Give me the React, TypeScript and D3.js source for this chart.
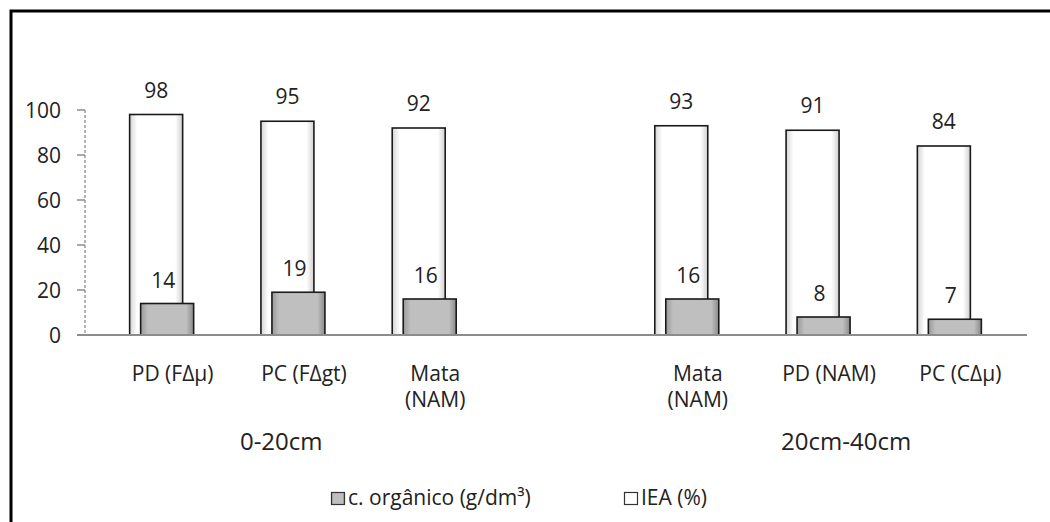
import React from "react";
import * as d3 from "d3";

const categories = ["PD (FΔμ)", "PC (FΔgt)", "Mata\n(NAM)", "", "Mata\n(NAM)", "PD (NAM)", "PC (CΔμ)"];
const carbonoOrganico: (number | null)[] = [14, 19, 16, null, 16, 8, 7];
const iea: (number | null)[] = [98, 95, 92, null, 93, 91, 84];
const yTicks = [0, 20, 40, 60, 80, 100];
const groupLabels = ["0-20cm", "20cm-40cm"];
const legendLabels = ["c. orgânico (g/dm³)", "IEA (%)"];

const W = 1050;
const H = 522;
const FONT = "'Open Sans', 'Noto Sans', sans-serif";

export default function App() {
  const ids = categories.map((_, i) => String(i));
  const x = d3.scaleBand<string>().domain(ids).range([107, 1026]).padding(0);
  const y = d3.scaleLinear().domain([0, 100]).range([335, 110]);
  const barW = 53;
  const center = (i: number) => (x(String(i)) as number) + x.bandwidth() / 2;
  const whiteX = (i: number) => center(i) - 43;
  const grayX = (i: number) => center(i) - 32;
  const y0 = y(0);

  return (
    <div style={{ position: "fixed", left: 0, top: 0, width: W, height: H, background: "#fff" }}>
      <svg width={W} height={H} style={{ display: "block" }} fontFamily={FONT}>
        <defs>
          <linearGradient id="gWhite" x1="0" x2="1" y1="0" y2="0">
            <stop offset="0" stopColor="#d4d4d4" />
            <stop offset="0.14" stopColor="#ffffff" />
            <stop offset="0.86" stopColor="#ffffff" />
            <stop offset="1" stopColor="#cfcfcf" />
          </linearGradient>
          <linearGradient id="gGray" x1="0" x2="1" y1="0" y2="0">
            <stop offset="0" stopColor="#9a9a9a" />
            <stop offset="0.14" stopColor="#bfbfbf" />
            <stop offset="0.86" stopColor="#bfbfbf" />
            <stop offset="1" stopColor="#8a8a8a" />
          </linearGradient>
        </defs>
        <rect x={0} y={0} width={W} height={H} fill="#fff" />
        {/* outer frame (cut off at right/bottom) */}
        <rect x={11} y={11} width={W + 20} height={H + 20} fill="none" stroke="#000" strokeWidth={3} />

        {/* y axis */}
        <line x1={85} x2={85} y1={y(100)} y2={y0} stroke="#9a9a9a" strokeWidth={1.5} strokeDasharray="3,2" />
        {yTicks.map((t) => (
          <g key={t}>
            <line x1={77} x2={85} y1={y(t)} y2={y(t)} stroke="#8c8c8c" strokeWidth={1.5} />
            <text x={61} y={y(t)} dy="0.36em" textAnchor="end" fontSize={21} fill="#222">
              {t}
            </text>
          </g>
        ))}

        {/* IEA bars (behind) */}
        {iea.map((v, i) =>
          v == null ? null : (
            <g key={"w" + i}>
              <rect x={whiteX(i)} y={y(v)} width={barW} height={y0 - y(v)} fill="url(#gWhite)" stroke="#1a1a1a" strokeWidth={1.6} />
              <text x={whiteX(i) + barW / 2} y={y(v) - 17} textAnchor="middle" fontSize={21} fill="#222">
                {v}
              </text>
            </g>
          )
        )}
        {/* carbon bars (front) */}
        {carbonoOrganico.map((v, i) =>
          v == null ? null : (
            <g key={"g" + i}>
              <rect x={grayX(i)} y={y(v)} width={barW} height={y0 - y(v)} fill="url(#gGray)" stroke="#1a1a1a" strokeWidth={1.6} />
              <text x={grayX(i) + barW / 2 - 4} y={y(v) - 16} textAnchor="middle" fontSize={21} fill="#222">
                {v}
              </text>
            </g>
          )
        )}

        {/* x axis */}
        <line x1={77} x2={1027} y1={y0} y2={y0} stroke="#8c8c8c" strokeWidth={2} />

        {/* category labels */}
        {categories.map((c, i) => (
          <text key={"c" + i} x={center(i)} y={381} textAnchor="middle" fontSize={21} fill="#222">
            {c.split("\n").map((ln, k) => (
              <tspan key={k} x={center(i)} dy={k === 0 ? 0 : 26}>
                {ln}
              </tspan>
            ))}
          </text>
        ))}

        {/* group labels */}
        <text x={center(1) - 64} y={450} fontSize={24} fill="#222">{groupLabels[0]}</text>
        <text x={center(5) - 48} y={450} fontSize={24} fill="#222">{groupLabels[1]}</text>

        {/* legend */}
        <rect x={331.5} y={492.5} width={13} height={12} fill="url(#gGray)" stroke="#333" strokeWidth={1.2} />
        <text x={348} y={505} fontSize={21} fill="#222">{legendLabels[0]}</text>
        <rect x={624.5} y={492.5} width={13} height={12} fill="#fff" stroke="#333" strokeWidth={1.2} />
        <text x={641} y={505} fontSize={21} fill="#222">{legendLabels[1]}</text>
      </svg>
    </div>
  );
}
